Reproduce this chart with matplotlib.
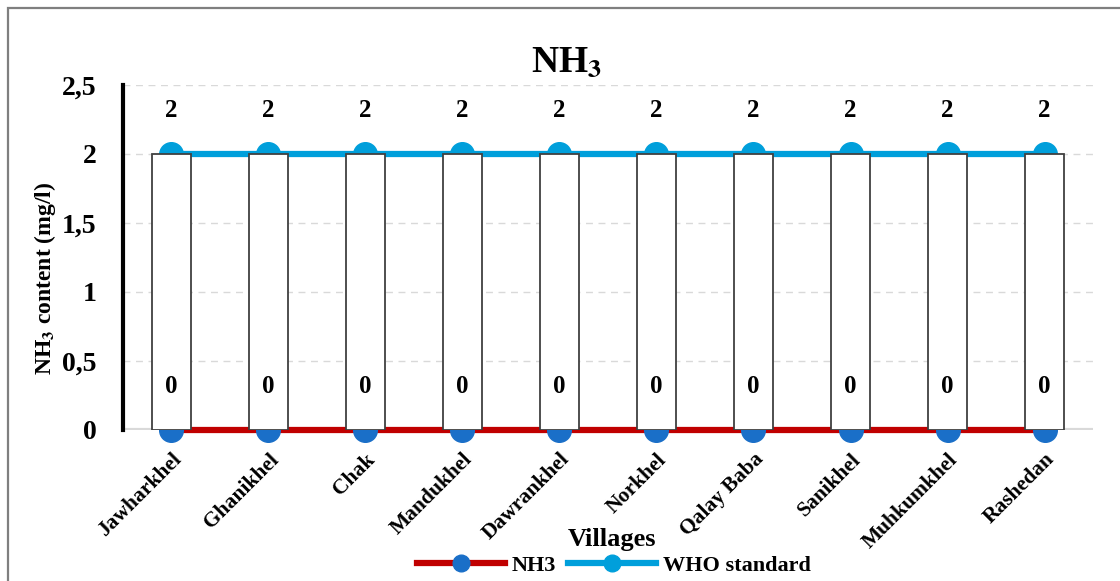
import matplotlib
matplotlib.use("Agg")
import matplotlib.pyplot as plt
from matplotlib.lines import Line2D
from matplotlib.patches import Rectangle
import numpy as np

villages = ["Jawharkhel", "Ghanikhel", "Chak", "Mandukhel", "Dawrankhel",
            "Norkhel", "Qalay Baba", "Sanikhel", "Muhkumkhel", "Rashedan"]
nh3 = [0, 0, 0, 0, 0, 0, 0, 0, 0, 0]
who_standard = [2, 2, 2, 2, 2, 2, 2, 2, 2, 2]
yticks = [0, 0.5, 1, 1.5, 2, 2.5]
ytick_labels = ["0", "0,5", "1", "1,5", "2", "2,5"]

RED = "#C00000"
DARK_BLUE = "#1A6FC8"
LIGHT_BLUE = "#009FDB"
GRID = "#D9D9D9"

plt.rcParams["font.family"] = ["Liberation Serif", "DejaVu Serif"]
plt.rcParams["font.weight"] = "bold"

fig = plt.figure(figsize=(11.2, 5.81), dpi=100)
ax = fig.add_axes([0.1098, 0.2599, 0.8661, 0.5938])

x = np.arange(len(villages))
lo = np.array(nh3)
hi = np.array(who_standard)

# baseline, series lines and up-down bars
ax.axhline(0, color=GRID, lw=3, zorder=1)
ax.plot(x, nh3, color=RED, lw=4.5, marker="o", ms=17, clip_on=False,
        mfc=DARK_BLUE, mec=DARK_BLUE, zorder=2, solid_capstyle="butt")
ax.plot(x, who_standard, color=LIGHT_BLUE, lw=4.5, marker="o", ms=17, clip_on=False,
        mfc=LIGHT_BLUE, mec=LIGHT_BLUE, zorder=2, solid_capstyle="butt")
ax.bar(x, hi - lo, bottom=lo, width=0.41, color="white",
       edgecolor="#404040", linewidth=1.3, zorder=3)

for series in (nh3, who_standard):
    for xi, v in zip(x, series):
        ax.annotate(f"{v:g}", (xi, v), xytext=(0, 31), textcoords="offset points",
                    ha="center", va="center", fontsize=18, fontweight="bold",
                    zorder=4)

ax.set_xlim(-0.5, len(villages) - 0.5)
ax.set_ylim(0, 2.5)
ax.set_yticks(yticks)
ax.set_yticklabels(ytick_labels, fontsize=20, fontweight="bold")
ax.set_xticks(x)
ax.set_xticklabels(villages, rotation=45, ha="right", rotation_mode="anchor",
                   fontsize=15.5, fontweight="bold")
ax.tick_params(axis="y", length=0, pad=19)
ax.tick_params(axis="x", length=0, pad=14)
ax.grid(axis="y", color=GRID, ls=(0, (5, 4)), lw=1, zorder=0)
ax.set_axisbelow(True)

for side in ["top", "right", "bottom"]:
    ax.spines[side].set_visible(False)
ax.spines["left"].set_linewidth(3)
ax.spines["left"].set_color("black")

fig.text(0.506, 0.893, r"NH$_\mathbf{3}$", ha="center", va="center",
         fontsize=27, fontweight="bold", math_fontfamily="stix")
fig.text(0.040, 0.52, r"NH$_\mathbf{3}$ content (mg/l)", rotation=90,
         ha="center", va="center", fontsize=17, fontweight="bold",
         math_fontfamily="stix")
fig.text(0.546, 0.071, "Villages", ha="center", va="center",
         fontsize=19, fontweight="bold")

handles = [
    Line2D([], [], color=RED, lw=4.5, marker="o", ms=12, mfc=DARK_BLUE, mec=DARK_BLUE),
    Line2D([], [], color=LIGHT_BLUE, lw=4.5, marker="o", ms=12, mfc=LIGHT_BLUE, mec=LIGHT_BLUE),
]
fig.legend(handles, ["NH3", "WHO standard"], loc="center", ncol=2,
           bbox_to_anchor=(0.548, 0.026), frameon=False, handlelength=4.0,
           columnspacing=0.5, handletextpad=0.3, prop={"size": 16, "weight": "bold"})

# outer chart border (runs off the right and bottom edges)
fig.patches.append(Rectangle((8 / 1120, -0.1), 1.2, 1.1 - 8 / 581,
                             transform=fig.transFigure, fill=False,
                             edgecolor="#7F7F7F", lw=1.6))

fig.savefig("out.png", dpi=100)
